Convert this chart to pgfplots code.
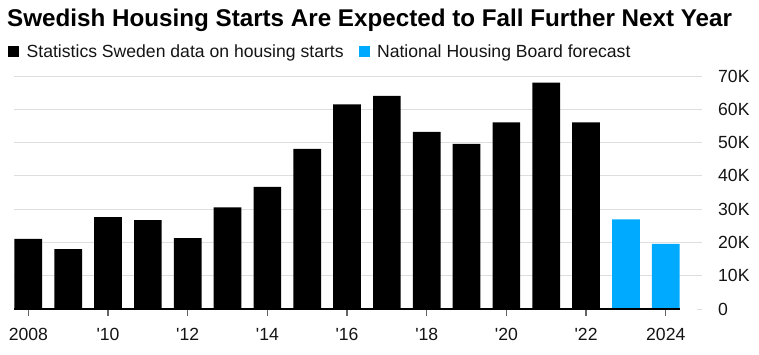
\documentclass[border=0pt]{standalone}
\usepackage{pgfplots}
\pgfplotsset{compat=1.18}
\usepackage{fontspec}
\setmainfont{Liberation Sans}
\definecolor{fcblue}{RGB}{0,170,255}
\definecolor{gridgray}{RGB}{222,222,222}
\definecolor{txt}{RGB}{20,20,20}
\definecolor{tickgray}{RGB}{100,100,100}
\begin{document}
\begin{tikzpicture}
\path[use as bounding box] (0pt,0pt) rectangle (759pt,354pt);
\node[anchor=base west, inner sep=0pt, font=\bfseries\fontsize{24.2}{28}\selectfont] at (7pt,327.3pt) {Swedish Housing Starts Are Expected to Fall Further Next Year};
\begin{axis}[
  at={(14pt,45pt)}, anchor=south west,
  scale only axis, width=688pt, height=233pt,
  xmin=2007.64, xmax=2024.91, ymin=0, ymax=70,
  clip=false,
  axis line style={draw=none},
  ymajorgrids, grid style={gridgray, line width=1pt},
  ytick={0,10,20,30,40,50,60,70},
  yticklabels={0,10K,20K,30K,40K,50K,60K,70K},
  yticklabel pos=right,
  ytick style={draw=none},
  yticklabel style={anchor=west, inner sep=0pt, xshift=9pt, text=txt, font=\fontsize{17.6}{20}\selectfont},
  xtick={2008,2010,2012,2014,2016,2018,2020,2022,2024},
  xticklabels={2008,\textquotesingle 10,\textquotesingle 12,\textquotesingle 14,\textquotesingle 16,\textquotesingle 18,\textquotesingle 20,\textquotesingle 22,2024},
  xtick pos=bottom, tick align=outside, major tick length=7pt,
  xtick style={draw=none},
  xticklabel style={anchor=base, inner sep=0pt, yshift=-24pt, text=txt, font=\fontsize{17.6}{20}\selectfont},
  legend columns=2,
  legend style={at={(axis description cs:-0.0083,1.105)}, anchor=west, draw=none, fill=none, inner sep=0pt, outer sep=0pt, font=\fontsize{17.6}{20}\selectfont, text=txt,
    nodes={inner sep=0pt},
    /tikz/every odd column/.append style={column sep=7.4pt},
    /tikz/every even column/.append style={column sep=15pt}},
  legend image code/.code={\fill[#1] (0pt,-5.5pt) rectangle (11pt,5.5pt);},
]
\addplot[ybar, bar width=0.695, bar shift=0pt, fill=black, draw=none] coordinates {
(2008,21.1) (2009,18.0) (2010,27.6) (2011,26.7) (2012,21.3) (2013,30.5) (2014,36.7) (2015,48.1) (2016,61.5) (2017,64.0) (2018,53.2) (2019,49.6) (2020,56.1) (2021,68.0) (2022,56.1)};
\addlegendentry{Statistics Sweden data on housing starts}
\addplot[ybar, bar width=0.695, bar shift=0pt, fill=fcblue, draw=none] coordinates {
(2023,26.9) (2024,19.6)};
\addlegendentry{National Housing Board forecast}
\addplot[ycomb, tickgray, line width=1.3pt, mark=none, forget plot] coordinates {
(2008,-2.1) (2010,-2.1) (2012,-2.1) (2014,-2.1) (2016,-2.1) (2018,-2.1) (2020,-2.1) (2022,-2.1) (2024,-2.1)};
\addplot[white, line width=1.4pt, forget plot] coordinates {(2024.35,0) (2024.78,0)};
\addplot[black, line width=1.3pt, forget plot] coordinates {(2007.64,0) (2024.35,0)};
\end{axis}
\end{tikzpicture}
\end{document}
